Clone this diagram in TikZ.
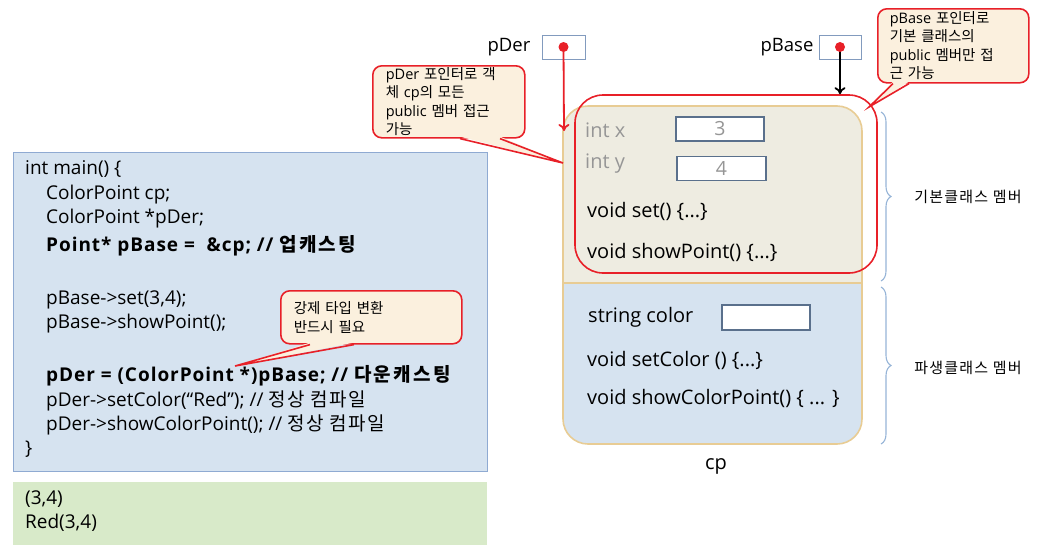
\documentclass[tikz,border=0pt]{standalone}
\usepackage{fontspec}
\setmainfont{Open Sans}
\newfontfamily\kr{Noto Sans CJK KR}
\newfontfamily\krc{Noto Sans CJK KR}[LetterSpace=8]
\newfontfamily\krb{Noto Sans CJK KR}[LetterSpace=12]
\newfontfamily\boldcode{Open Sans}[LetterSpace=5]
\usetikzlibrary{arrows.meta,decorations.pathreplacing,calc}
\definecolor{codebg}{RGB}{214,227,240}
\definecolor{codeborder}{RGB}{143,170,210}
\definecolor{outbg}{RGB}{216,234,201}
\definecolor{callbg}{RGB}{251,240,222}
\definecolor{callred}{RGB}{232,32,40}
\definecolor{basebg}{RGB}{238,236,225}
\definecolor{tan}{RGB}{232,204,148}
\definecolor{derbg}{RGB}{214,227,240}
\definecolor{boxborder}{RGB}{90,112,140}
\definecolor{graytext}{RGB}{150,150,150}
\definecolor{bracecol}{RGB}{150,180,215}
\definecolor{ptrborder}{RGB}{130,155,190}
\begin{document}
\begin{tikzpicture}[x=1pt,y=-1pt,
  code/.style={anchor=west, inner sep=0pt, font=\fontsize{19}{20}\selectfont, text height=13pt, text depth=4pt},
  boldline/.style={code, font=\fontsize{19}{20}\selectfont\boldcode\bfseries},
  codebox/.style={draw=codeborder, line width=1.2pt, fill=codebg, inner sep=0pt},
  outbox/.style={fill=outbg, inner sep=0pt},
  callout/.style={draw=callred, line width=1.6pt, fill=callbg, rounded corners=9pt, inner xsep=0pt, inner ysep=0pt, align=left, font=\fontsize{14.5}{18.5}\selectfont},
  tailfill/.style={fill=callbg},
  tailline/.style={draw=callred, line width=1.6pt, line join=miter},
  ptrlabel/.style={inner sep=0pt, font=\fontsize{18.5}{22}\selectfont},
  ptrbox/.style={draw=ptrborder, line width=1pt, fill=white, minimum height=24pt, inner sep=0pt},
  valbox/.style={draw=boxborder, line width=1.6pt, fill=white, minimum height=24pt, inner sep=0pt, font=\fontsize{19.5}{20}\selectfont, text=graytext},
  member/.style={anchor=west, inner sep=0pt, font=\fontsize{20}{22}\selectfont, text height=14pt, text depth=5pt},
  grey member/.style={member, text=graytext},
  side/.style={inner sep=0pt, font=\krc\fontsize{15}{16}\selectfont},
  bracestyle/.style={draw=bracecol, line width=1.1pt, decorate, decoration={brace, amplitude=10pt}},
  redarrow/.style={draw=callred, line width=1.8pt, -{To[length=7pt,width=11pt]}},
  blackarrow/.style={draw=black, line width=1.8pt, -{To[length=7pt,width=11pt]}},
]
\useasboundingbox (0,0) rectangle (1040,555);

% ---------- code box ----------
\node[codebox, anchor=north west, minimum width=474pt, minimum height=319pt] (codebox) at (13,152) {};
\node[code] (l1) at (25,170) {int main() \{};
\node[code] (l2) at (46,195) {ColorPoint cp;};
\node[code] (l3) at (46,219) {ColorPoint *pDer;};
\node[boldline] (l4) at (46,247) {Point* pBase = \ \&cp; // {\krb\bfseries 업캐스팅}};
\node[code] (l5) at (46,300) {pBase->set(3,4);};
\node[code] (l6) at (46,324) {pBase->showPoint();};
\node[boldline] (l7) at (46,377) {pDer = (ColorPoint *)pBase; // {\krb\bfseries 다운캐스팅}};
\node[code] (l8) at (46,402) {pDer->setColor(“Red”); // {\krc 정상 컴파일}};
\node[code] (l9) at (46,426) {pDer->showColorPoint(); // {\krc 정상 컴파일}};
\node[code] (l10) at (25,450) {\}};

% ---------- output box ----------
\node[outbox, anchor=north west, minimum width=474pt, minimum height=63pt] (outbox) at (13,482) {};
\node[code] (o1) at (25,500) {(3,4)};
\node[code] (o2) at (25,524) {Red(3,4)};

% ---------- pointers ----------
\node[ptrlabel] (pderlbl) at (509,47) {pDer};
\node[ptrbox, minimum width=43pt] (pderbox) at (563.5,47) {};
\node[ptrlabel] (pbaselbl) at (787,47) {pBase};
\node[ptrbox, minimum width=42pt] (pbasebox) at (840,47) {};

% ---------- cp object ----------
\coordinate (cpnw) at (563,106);
\coordinate (cpse) at (862,444);
\coordinate (cpmidw) at (563,283);
\coordinate (cpmide) at (862,283);
\fill[derbg, rounded corners=25pt] (cpnw) rectangle (cpse);
\begin{scope}
  \clip (563,100) rectangle (862,283);
  \fill[basebg, rounded corners=25pt] (cpnw) rectangle (cpse);
\end{scope}
\draw[tan, line width=1.6pt, rounded corners=25pt] (cpnw) rectangle (cpse);
\draw[tan, line width=1.6pt] (cpmidw) -- (cpmide);

\node[grey member] (ix) at (585,133) {int x};
\node[valbox, minimum width=88pt] (vx) at (720,129) {3};
\node[grey member] (iy) at (585,164) {int y};
\node[valbox, minimum width=89pt] (vy) at (721.5,168.5) {4};
\node[member] (mset) at (587,213) {void set() \{...\}};
\node[member] (mshow) at (587,254) {void showPoint() \{...\}};
\node[member] (mcolor) at (588,318) {string color};
\node[valbox, minimum width=88pt, minimum height=25pt] (vcolor) at (766,317.5) {};
\node[member] (msetc) at (587,362) {void setColor () \{...\}};
\node[member] (mshowc) at (587,400) {void showColorPoint() \{ ... \}};
\node[member, anchor=center] (cplbl) at (716,465) {cp};

% red accessible-region box
\node[draw=callred, line width=1.6pt, rounded corners=28pt, minimum width=302pt, minimum height=178pt, inner sep=0pt] (baseacc) at (726,184) {};

% braces
\draw[bracestyle] (881,112) -- (881,281);
\draw[bracestyle] (881,287) -- (881,444);
\node[side] (basemem) at (968,197) {기본클래스 멤버};
\node[side] (dermem) at (968,368) {파생클래스 멤버};

% ---------- arrows ----------
\coordinate (pderdot) at (pderbox.center);
\coordinate (pbasedot) at (pbasebox.center);
\coordinate (pdertip) at (564,131);
\draw[redarrow] (pderdot) -- (pdertip);
\draw[blackarrow] (pbasedot) -- (baseacc.north -| pbasedot);
\fill[callred] (pderdot) circle (5pt);
\fill[callred] (pbasedot) circle (5pt);

% ---------- callouts ----------
% callout 1
\node[callout, anchor=north west, minimum width=152pt, minimum height=72pt, text width=126pt] (c1) at (372,65)
  {pDer {\kr 포인터로 객}\\{\kr 체} cp{\kr 의 모든}\\public {\kr 멤버 접근}\\{\kr 가능}};
\coordinate (t1) at (563,163);
\coordinate (b1a) at ($(c1.south west)+(88,0)$);
\coordinate (b1b) at ($(c1.south west)+(128,0)$);
\fill[tailfill] ($(b1a)+(0,-2)$) -- (t1) -- ($(b1b)+(0,-2)$) -- cycle;
\draw[tailline] (b1a) -- (t1) -- (b1b);

% callout 2
\node[callout, anchor=north west, minimum width=181pt, minimum height=53pt, text width=155pt] (c2) at (280,290)
  {\kr 강제 타입 변환\\반드시 필요};
\coordinate (t2) at (235,366);
\coordinate (b2a) at ($(c2.south west)+(30,0)$);
\coordinate (b2b) at ($(c2.south west)+(74,0)$);
\fill[tailfill] ($(b2a)+(0,-2)$) -- (t2) -- ($(b2b)+(0,-2)$) -- cycle;
\draw[tailline] (b2a) -- (t2) -- (b2b);

% callout 3
\node[callout, anchor=north west, minimum width=151pt, minimum height=74pt, text width=127pt] (c3) at (877,8)
  {pBase {\kr 포인터로}\\{\kr 기본 클래스의}\\public {\kr 멤버만 접}\\{\kr 근 가능}};
\coordinate (t3) at (869,107);
\coordinate (b3a) at ($(c3.south west)+(16,0)$);
\coordinate (b3b) at ($(c3.south west)+(32,0)$);
\fill[tailfill] ($(b3a)+(0,-2)$) -- (t3) -- ($(b3b)+(0,-2)$) -- cycle;
\draw[tailline] (b3a) -- (t3) -- (b3b);

\end{tikzpicture}
\end{document}
